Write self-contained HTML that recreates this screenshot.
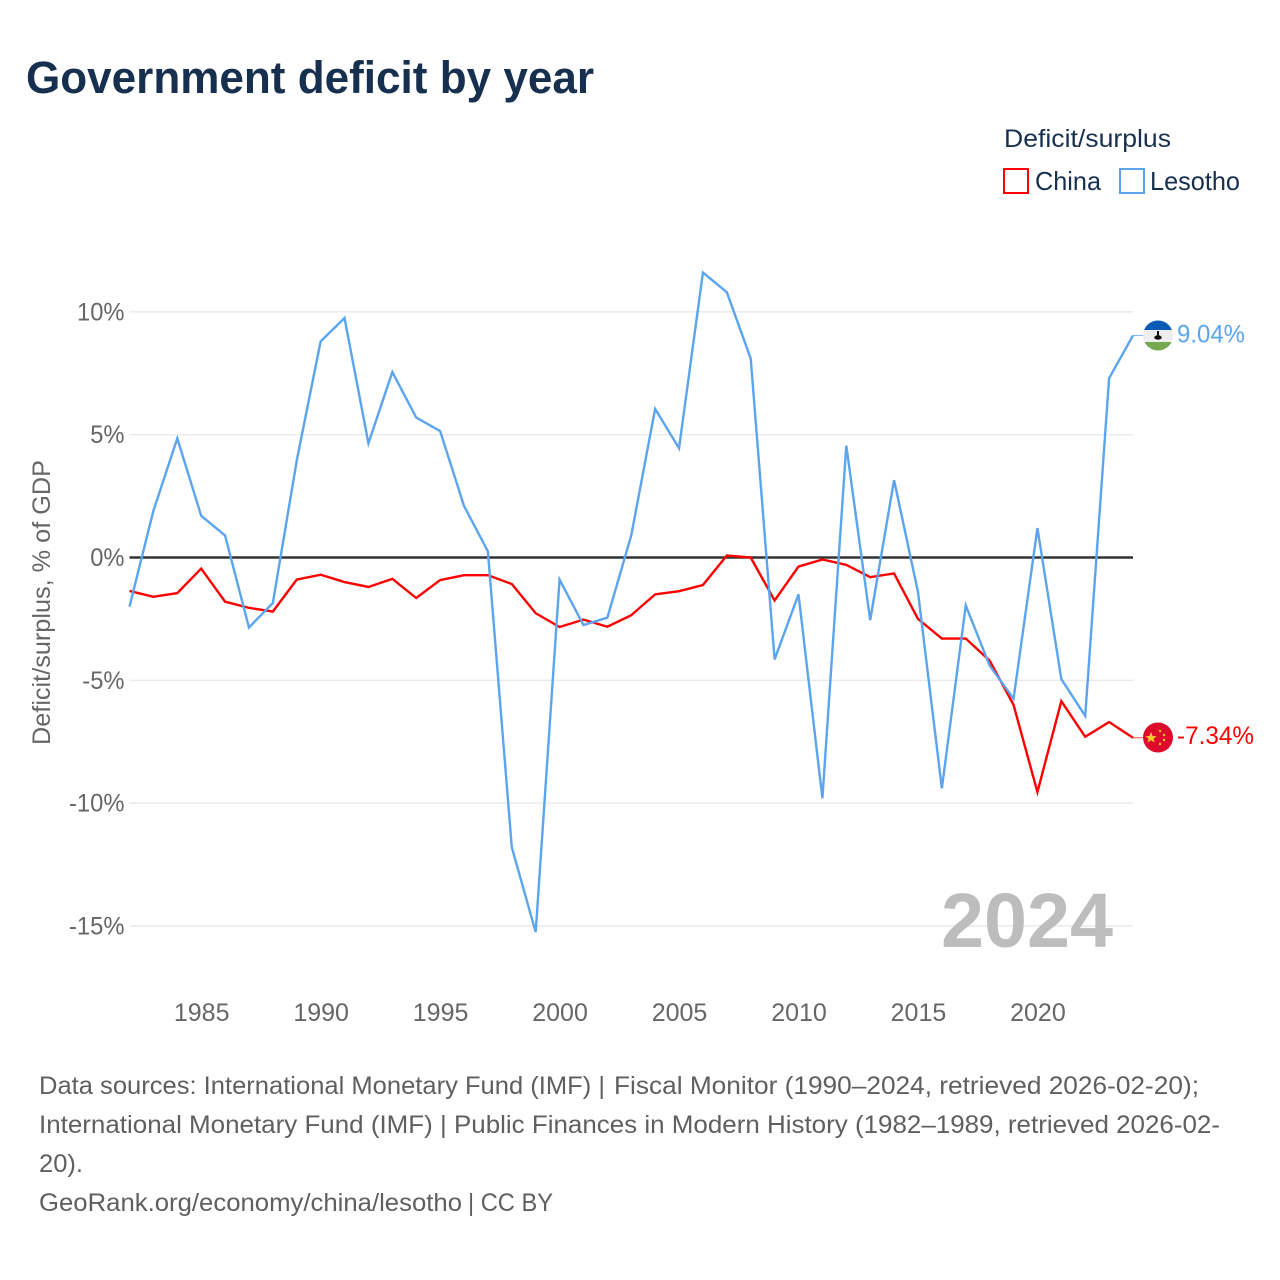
<!DOCTYPE html>
<html lang="en">
<head>
<meta charset="utf-8">
<title>Government deficit by year</title>
<style>
html,body{margin:0;padding:0;background:#fff}
svg{display:block}
text{font-family:"Liberation Sans",sans-serif}
</style>
</head>
<body>
<svg id="chart" xmlns="http://www.w3.org/2000/svg" width="1280" height="1280" viewBox="0 0 1280 1280">
  <rect width="1280" height="1280" fill="#fff"/>
  <text x="26" y="93" font-size="45" font-weight="700" fill="#18304f" textLength="568" lengthAdjust="spacingAndGlyphs">Government deficit by year</text>

  <g>
    <text x="1004" y="147" font-size="25" fill="#18304f" textLength="167" lengthAdjust="spacingAndGlyphs">Deficit/surplus</text>
    <g>
      <rect x="1004" y="169" width="24" height="24" fill="none" stroke="#ff0000" stroke-width="2"/>
      <text x="1035" y="190" font-size="26" fill="#18304f" textLength="66" lengthAdjust="spacingAndGlyphs">China</text>
    </g>
    <g>
      <rect x="1120" y="169" width="24" height="24" fill="none" stroke="#5ba4ee" stroke-width="2"/>
      <text x="1150" y="190" font-size="26" fill="#18304f" textLength="90" lengthAdjust="spacingAndGlyphs">Lesotho</text>
    </g>
  </g>

  <text transform="translate(50,745) rotate(-90)" x="0" y="0" font-size="25" fill="#666" textLength="285" lengthAdjust="spacingAndGlyphs">Deficit/surplus, % of GDP</text>

  <g id="grid"></g>
  <g id="yticks"></g>
  <g id="xticks"></g>

  <text x="941" y="947" font-size="77" font-weight="700" fill="#bdbdbd" textLength="172" lengthAdjust="spacingAndGlyphs">2024</text>

  <g id="series"></g>

  <defs>
    <clipPath id="clip-ls"><circle cx="1158" cy="335.5" r="15"/></clipPath>
    <clipPath id="clip-cn"><circle cx="1158" cy="737.5" r="15"/></clipPath>
  </defs>

  <g clip-path="url(#clip-ls)">
    <rect x="1143" y="320" width="30" height="10" fill="#0b5cb5"/>
    <rect x="1143" y="330" width="30" height="12" fill="#eeeeee"/>
    <rect x="1143" y="342" width="30" height="10" fill="#75a84f"/>
    <rect x="1157" y="331" width="2" height="6" fill="#111"/>
    <ellipse cx="1158" cy="337.5" rx="3.8" ry="2.2" fill="#111"/>
  </g>
  <g clip-path="url(#clip-cn)">
    <rect x="1143" y="722" width="30" height="31" fill="#de0a2b"/>
    <polygon points="1151,732 1152.6,736 1156.6,736.2 1153.5,738.7 1154.6,742.5 1151,740.3 1147.4,742.5 1148.5,738.7 1145.4,736.2 1149.4,736" fill="#fdc832"/>
    <circle cx="1160" cy="731" r="1.2" fill="#fdc832"/>
    <circle cx="1164" cy="735" r="1.2" fill="#fdc832"/>
    <circle cx="1164" cy="740" r="1.2" fill="#fdc832"/>
    <circle cx="1160" cy="744" r="1.2" fill="#fdc832"/>
  </g>

  <g id="endlabels"></g>

  <g font-size="25" fill="#5f5f5f">
    <text x="39" y="1094" textLength="566" lengthAdjust="spacingAndGlyphs">Data sources: International Monetary Fund (IMF) |</text>
    <text x="614" y="1094" textLength="585" lengthAdjust="spacingAndGlyphs">Fiscal Monitor (1990–2024, retrieved 2026-02-20);</text>
    <text x="39" y="1133" textLength="1181" lengthAdjust="spacingAndGlyphs">International Monetary Fund (IMF) | Public Finances in Modern History (1982–1989, retrieved 2026-02-</text>
    <text x="39" y="1172" textLength="44" lengthAdjust="spacingAndGlyphs">20).</text>
    <text x="39" y="1211" textLength="423" lengthAdjust="spacingAndGlyphs">GeoRank.org/economy/china/lesotho</text>
    <text x="468" y="1211" textLength="85" lengthAdjust="spacingAndGlyphs">| CC BY</text>
  </g>
</svg>
<script>
const years = [1982,1983,1984,1985,1986,1987,1988,1989,1990,1991,1992,1993,1994,1995,1996,1997,1998,1999,2000,2001,2002,2003,2004,2005,2006,2007,2008,2009,2010,2011,2012,2013,2014,2015,2016,2017,2018,2019,2020,2021,2022,2023,2024];
const chinaValues = [-1.36,-1.6,-1.45,-0.45,-1.8,-2.05,-2.2,-0.9,-0.7,-1.0,-1.2,-0.87,-1.65,-0.92,-0.72,-0.72,-1.08,-2.27,-2.83,-2.53,-2.82,-2.35,-1.5,-1.37,-1.12,0.08,0,-1.75,-0.37,-0.08,-0.3,-0.8,-0.65,-2.5,-3.3,-3.3,-4.2,-6.0,-9.55,-5.85,-7.3,-6.7,-7.34];
const lesothoValues = [-2.0,1.9,4.85,1.7,0.9,-2.85,-1.85,3.95,8.8,9.75,4.65,7.55,5.7,5.15,2.1,0.25,-11.8,-15.25,-0.9,-2.75,-2.45,0.9,6.05,4.45,11.6,10.8,8.1,-4.15,-1.5,-9.8,4.55,-2.55,3.15,-1.4,-9.4,-1.95,-4.4,-5.75,1.2,-4.95,-6.45,7.3,9.04];
const yTickValues = [10,5,0,-5,-10,-15];
const xTickValues = [1985,1990,1995,2000,2005,2010,2015,2020];

const NS = 'http://www.w3.org/2000/svg';
function xScale(year){ return 129.5 + (year - 1982) * (1133 - 129.5) / 42; }
function yScale(v){ return 557.5 - v * 24.56; }
function make(tag, attrs, parent){
  const el = document.createElementNS(NS, tag);
  for (const k in attrs) el.setAttribute(k, attrs[k]);
  parent.appendChild(el);
  return el;
}

const grid = document.getElementById('grid');
const yticks = document.getElementById('yticks');
yTickValues.forEach(function(v){
  const line = make('line', {x1:129.5, x2:1133, y1:yScale(v), y2:yScale(v), stroke: v === 0 ? '#333333' : '#e6e6e6', 'stroke-width': v === 0 ? 2.4 : 1.2}, grid);
  
  
  const t = make('text', {x:124.5, y:yScale(v) + 8.5, 'font-size':25, fill:'#666', 'text-anchor':'end'}, yticks);
  t.textContent = v + '%';
  
  
  t.setAttribute('textLength', (t.getComputedTextLength() * 0.95).toFixed(1));
  t.setAttribute('lengthAdjust', 'spacingAndGlyphs');
});

const xticks = document.getElementById('xticks');
xTickValues.forEach(function(y){
  const t = make('text', {x:xScale(y) + 0.5, y:1021, 'font-size':25, fill:'#666', 'text-anchor':'middle'}, xticks);
  t.textContent = String(y);
  
  
});

function pathFor(values){
  return values.map(function(v, i){
    return (i ? 'L' : 'M') + xScale(years[i]).toFixed(2) + ' ' + yScale(v).toFixed(2);
  }).join(' ');
}

const series = document.getElementById('series');
const lineChina = make('path', {d:pathFor(chinaValues), fill:'none', stroke:'#ff0000', 'stroke-width':2.4, 'stroke-linejoin':'miter'}, series);


const lineLesotho = make('path', {d:pathFor(lesothoValues), fill:'none', stroke:'#5ba4ee', 'stroke-width':2.4, 'stroke-linejoin':'miter'}, series);



const lastChina = chinaValues[chinaValues.length - 1];
const lastLesotho = lesothoValues[lesothoValues.length - 1];
const connChina = make('line', {x1:1133, x2:1144, y1:yScale(lastChina), y2:yScale(lastChina), stroke:'#ff0000', 'stroke-width':1, opacity:0.7}, series);


const connLesotho = make('line', {x1:1133, x2:1144, y1:yScale(lastLesotho), y2:yScale(lastLesotho), stroke:'#5ba4ee', 'stroke-width':1, opacity:0.8}, series);



const endlabels = document.getElementById('endlabels');
const labelLesotho = make('text', {x:1177, y:yScale(lastLesotho) + 7, 'font-size':25, fill:'#5ba4ee', textLength:68, lengthAdjust:'spacingAndGlyphs'}, endlabels);
labelLesotho.textContent = lastLesotho.toFixed(2) + '%';


const labelChina = make('text', {x:1177, y:yScale(lastChina) + 6, 'font-size':25, fill:'#ff0000', textLength:77, lengthAdjust:'spacingAndGlyphs'}, endlabels);
labelChina.textContent = lastChina.toFixed(2) + '%';


</script>
</body>
</html>
